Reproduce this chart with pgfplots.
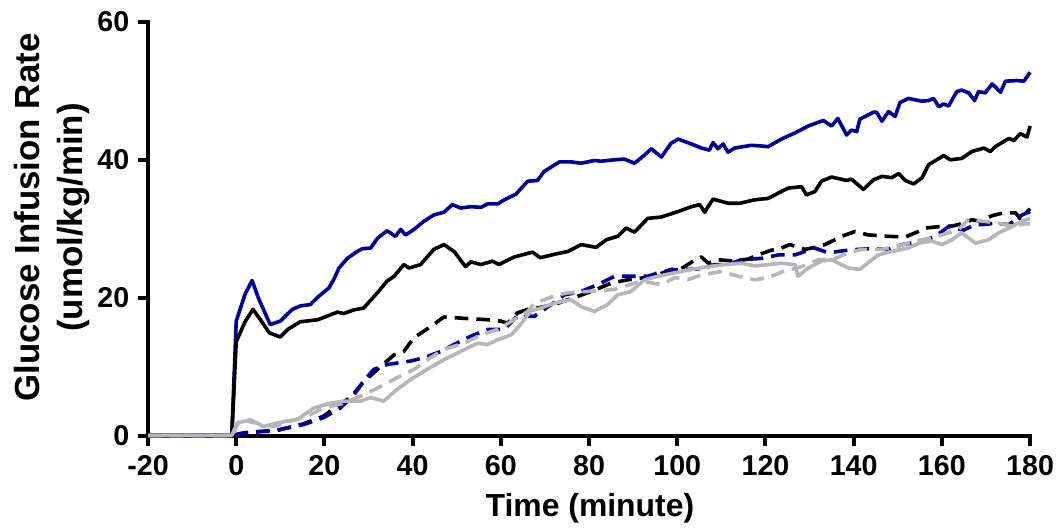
\documentclass[border=0pt]{standalone}
\usepackage{fontspec}
\setmainfont{Liberation Sans}
\usepackage{pgfplots}
\pgfplotsset{compat=1.18}
\usetikzlibrary{calc}
\definecolor{myblue}{RGB}{0,0,153}
\definecolor{mygray}{RGB}{182,182,186}
\begin{document}
\begin{tikzpicture}
\begin{axis}[name=ax, scale only axis, width=354pt, height=166pt,
  xmin=-20, xmax=180, ymin=0, ymax=60,
  axis x line=bottom, axis y line=left,
  axis line style={-, line width=1.6pt, line cap=rect},
  xtick={-20,0,20,40,60,80,100,120,140,160,180}, ytick={0,20,40,60},
  tick align=outside, major tick length=4pt,
  tick style={line width=1.6pt, black},
  ticklabel style={font=\fontsize{11.5}{13}\selectfont\bfseries},
  xticklabel style={yshift=-0.5pt},
  /pgf/number format/assume math mode=true,
  xlabel={Time (minute)},
  xlabel style={at={(axis description cs:0.501,-0.176)}, anchor=center,
    font=\fontsize{12.8}{15}\selectfont\bfseries},
  ylabel={Glucose Infusion Rate\\(umol/kg/min)},
  ylabel style={at={(axis description cs:-0.109,0.527)}, anchor=center,
    align=center, font=\fontsize{14}{17.3}\selectfont\bfseries},
  clip=false, no markers,
  every axis plot/.append style={line width=1.45pt, line join=round},
]
% blue solid
\addplot[myblue] coordinates {(-20,0) (-10,0) (-1,0) (0,16.6) (2,20.5) (3.6,22.5) (5,20) (7.7,16.1) (10,16.6) (12.7,18.3) (14.5,18.8) (16.8,19) (18.7,20.2) (21,21.4) (22.1,22.6) (23.3,24.3) (25.2,25.7) (27.4,26.7) (28.6,27.1) (30.5,27.2) (32,28.6) (34.2,29.7) (36.1,28.9) (37.3,29.9) (38.4,29.1) (40.3,29.9) (42.6,31.1) (44.8,32) (47.1,32.4) (49,33.5) (50.9,33) (53.2,33.2) (55.5,33.1) (57,33.6) (59.3,33.6) (60.8,34.2) (63.4,35) (66.1,36.9) (68.3,37) (69.8,38.3) (73.3,39.7) (75.9,39.7) (78.2,39.5) (81.2,39.9) (82.7,39.8) (85.8,40) (88,40.1) (90.3,39.5) (92.6,40.7) (94.1,41.6) (96.4,40.4) (98.6,42.4) (100.2,43) (103.2,42.3) (105.5,41.7) (107.3,41.4) (108.1,42.5) (109.2,41.6) (110.4,42.3) (111.5,41.1) (113,41.7) (116.8,42.1) (119.1,42) (120.6,41.9) (123.6,43) (126.7,43.9) (129.7,44.9) (133.1,45.7) (135,44.9) (136.4,46) (138.4,43.6) (139.5,44.3) (140.7,44.1) (141.4,45.9) (144.5,46.9) (145.2,46.9) (146.4,45.6) (147.9,47) (149.4,46.3) (150.5,48.3) (152.4,48.9) (155.5,48.5) (157,48.6) (158.1,48.9) (159.3,47.7) (160.4,48.1) (161.5,47.8) (163.4,49.9) (164.5,50.1) (166.1,49.7) (167.4,48.6) (168.3,49.9) (169.8,49.7) (171.4,51) (173.3,49.8) (174.4,51.4) (177.1,51.5) (178.6,51.4) (180,52.7)};
% black solid
\addplot[black] coordinates {(-20,0) (-1,0) (0,13.6) (2,16.5) (3.8,18.3) (5.5,16.8) (7.5,14.9) (10,14.3) (11.7,15.4) (14.5,16.5) (18.5,16.8) (22.9,17.9) (24.4,17.7) (26.5,18.2) (28.9,18.5) (32,20.7) (34.2,22.4) (35.8,23.1) (38,24.8) (39.2,24.3) (41.8,24.8) (44.8,27) (47.1,27.7) (49.4,26.7) (52,24.5) (53.2,25.2) (55.5,24.8) (58.1,25.3) (59.6,24.8) (63,25.9) (67.2,26.6) (68.9,25.8) (72.9,26.4) (75.2,26.7) (78.2,27.7) (81.6,27.3) (83.9,28.4) (86.5,28.9) (88.4,30.1) (90.3,29.5) (93.3,31.5) (96.4,31.7) (100.2,32.5) (103.2,33.2) (105.1,33.5) (106.2,32.4) (108.1,34.3) (111.5,33.7) (114.2,33.7) (117.6,34.2) (120.6,34.4) (123.6,35.4) (125.2,35.9) (128.2,36.1) (129.3,34.9) (131.2,35.4) (132.7,36.9) (135,37.5) (138.4,37) (139.5,37.2) (142.2,35.7) (144.5,37.1) (146.4,37.6) (148.6,37.4) (150.2,38) (151.7,37) (153.6,36.5) (155.5,37.4) (157,39.3) (160.4,40.6) (161.9,40) (164.5,40.2) (166.8,41.2) (169.5,41.7) (171,41.2) (172.1,41.9) (175.2,43.1) (176.3,42.8) (177.8,43.8) (179.3,43.3) (180,44.9)};
% black dashed
\addplot[black, dash pattern=on 5.5pt off 3.2pt] coordinates {(-20,0) (-1,0) (1.7,0.4) (5.5,0.6) (8.5,0.6) (11.5,1.1) (15.3,1.7) (19.8,2.8) (22.9,4.3) (25.9,5.5) (28.6,7.6) (32.7,10) (35.8,11.7) (38,12.2) (40.3,14.2) (44.1,15.8) (47.1,17.2) (51.7,17) (57,16.8) (60,16.6) (61.5,16.3) (63.8,17.8) (66.1,18.3) (68.3,18.5) (72.1,19) (75.2,19.7) (79.7,20.7) (85,22.1) (88.8,22.6) (92.6,22.9) (95.6,23.3) (98.6,24.1) (100.9,24.2) (103.6,25.3) (105.5,25.9) (107,25) (109.2,25.5) (113,25.3) (116.1,25.6) (118.3,26.2) (121.4,26.9) (122.9,27) (125.5,27.7) (129,27) (131.2,27.3) (133.5,27.7) (137.3,28.9) (140.3,29.6) (143.3,29.1) (147.9,28.9) (151.7,28.8) (154.7,29.6) (156.2,30.1) (159.3,30.3) (162.3,30.4) (163.8,30.6) (166.8,31.3) (168.7,31.1) (171.4,31.9) (174,32.3) (176.7,32.3) (177.8,31.4) (180,32.9)};
% blue dashed
\addplot[myblue, dash pattern=on 5.5pt off 3.2pt] coordinates {(-20,0) (-1,0) (2.4,0.4) (6,0.6) (10,0.9) (15.3,1.6) (19.8,2.6) (23.6,4) (26.7,5.9) (28.9,7.9) (31.2,9.6) (34.2,10.3) (39.5,10.8) (42.6,11.3) (46.4,12.2) (50.9,13.7) (53.2,14.4) (57,15.4) (60.8,15.4) (63.8,17.4) (67.6,17.3) (71.4,19) (74.4,20.4) (78.2,20.9) (82,21.9) (85.8,23.1) (89.5,23.1) (93.3,23.1) (95.6,23.6) (98.6,24) (102.4,24.1) (105.5,24.2) (108.5,24.8) (111.5,24.8) (114.5,25.5) (119.1,25.7) (122.9,26.2) (126.7,26.2) (131.2,27.2) (134.2,26.5) (138.8,26.9) (143.3,27.1) (147.9,27) (151,27.7) (155.5,28.2) (158.5,28.9) (161.5,30.3) (164.9,29.8) (167.6,30.6) (169.1,30.6) (172.1,30.8) (175.2,30.6) (178.2,32) (180,32.5)};
% gray solid
\addplot[mygray] coordinates {(-20,0) (-1,0) (0.2,1.8) (3.2,2.3) (6.2,1.3) (9.2,1.8) (11.5,2.1) (13.8,2.3) (17.6,4) (21.4,4.7) (24.4,5) (28.2,5) (30.5,5.5) (33.5,5) (36.5,6.7) (39.5,8.1) (43.3,9.6) (47.1,11) (50.9,12.2) (54.7,13.4) (57,13.2) (59.3,13.9) (62.3,14.6) (64.5,16.1) (66.8,18.1) (69.1,18.5) (72.1,19.2) (75.9,19.7) (78.2,18.7) (81.2,18) (84.2,19) (86.5,20.4) (89.5,20.9) (92.6,22.6) (95.6,23.1) (99.4,23.6) (103.2,24.1) (107,24.5) (110.8,24.8) (114.5,25) (117.6,24.6) (120.6,24.8) (123.6,25) (126.7,24.8) (127.4,23.1) (129.7,24.3) (132.7,25.3) (135,25.5) (138.8,24.3) (141.4,24.1) (144.1,25.5) (145.6,26.2) (148.6,26.7) (152.4,27.2) (154.7,27.9) (157.7,28.2) (160,27.7) (162.3,28.4) (164.5,29.4) (167.6,27.9) (170.6,28.4) (172.9,29.4) (175.2,30.1) (178.2,31.1) (180,31.5)};
% gray dashed
\addplot[mygray, dash pattern=on 5.5pt off 3.2pt] coordinates {(-20,0) (-1,0) (0.9,2.3) (4.7,1.8) (8.5,1.3) (12.3,2.1) (16.1,2.8) (19.8,4) (24.4,4.7) (28.9,5.9) (32.7,7.1) (36.5,8.4) (40.3,9.6) (44.1,11.3) (47.1,12.5) (51.7,13.4) (55.5,14.6) (59.3,15.4) (63,16.8) (66.1,18) (67.6,19.2) (72.9,20.4) (75.2,20.7) (79.7,20.9) (85.8,21.2) (91.8,22.4) (96.4,21.9) (99.4,22.9) (102.4,22.6) (105.5,23.3) (110,23.8) (113.8,23.1) (117.6,22.6) (120.6,22.9) (124,23.8) (128.2,24.5) (132,25.5) (135.5,25.6) (138.8,26.5) (141.8,27) (146.4,27) (150.2,27.5) (153.9,28.2) (157,28.6) (160,29.1) (163.8,29.9) (166.1,31.4) (169.1,31.1) (172.1,30.9) (175.9,30.4) (178.9,30.7) (180,30.7)};
\end{axis}
\pgfresetboundingbox
\path ($(ax.south west)+(-59.4pt,-37.3pt)$) rectangle ($(ax.north east)+(11.6pt,8.8pt)$);
\end{tikzpicture}
\end{document}
